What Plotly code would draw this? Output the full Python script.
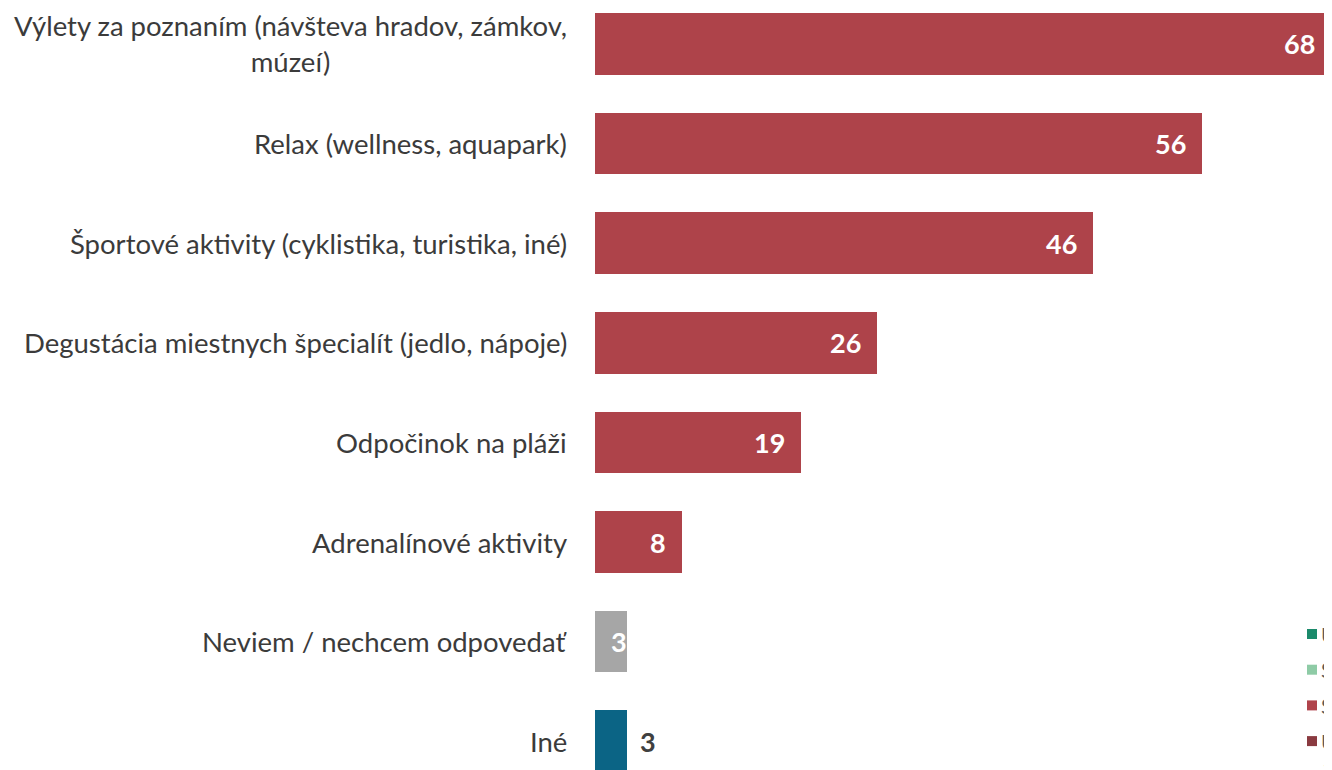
import plotly.graph_objects as go

categories = [
    "Výlety za poznaním (návšteva hradov, zámkov,<br>múzeí)",
    "Relax (wellness, aquapark)",
    "Športové aktivity (cyklistika, turistika, iné)",
    "Degustácia miestnych špecialít (jedlo, nápoje)",
    "Odpočinok na pláži",
    "Adrenalínové aktivity",
    "Neviem / nechcem odpovedať",
    "Iné",
]
values = [68, 56, 46, 26, 19, 8, 3, 3]
bar_colors = ["#AE434A"] * 6 + ["#A6A6A6", "#0B6485"]

legend_labels = ["Určite áno", "Skôr áno", "Skôr nie", "Určite nie", "Ťažko povedať"]
legend_colors = ["#1B8A6B", "#8ECBA6", "#B0434B", "#8A3A40", "#A6A6A6"]

FONT = "Lato"
ypos = list(range(len(categories)))

fig = go.Figure()
fig.add_trace(go.Bar(
    x=values, y=ypos, orientation="h",
    marker=dict(color=bar_colors, line=dict(width=0)),
    width=0.62, showlegend=False, hoverinfo="x",
))

annotations = []
for i, (cat, v) in enumerate(zip(categories, values)):
    annotations.append(dict(
        x=0, xref="paper", y=i, yref="y", text=cat, showarrow=False,
        xanchor="right", yanchor="middle", align="center", xshift=-26,
        font=dict(family=FONT, size=27.5, color="#3B3B3B"),
    ))
    if i == len(values) - 1:
        annotations.append(dict(
            x=v, xref="x", y=i, yref="y", text=f"<b>{v}</b>", showarrow=False,
            xanchor="left", yanchor="middle", xshift=11,
            font=dict(family=FONT, size=27, color="#404040"),
        ))
    elif v < 5:
        annotations.append(dict(
            x=v, xref="x", y=i, yref="y", text=f"<b>{v}</b>", showarrow=False,
            xanchor="right", yanchor="middle", xshift=2,
            font=dict(family=FONT, size=27, color="white"),
        ))
    else:
        annotations.append(dict(
            x=v, xref="x", y=i, yref="y", text=f"<b>{v}</b>", showarrow=False,
            xanchor="right", yanchor="middle", xshift=-14,
            font=dict(family=FONT, size=27, color="white"),
        ))

shapes = []
for k, (lab, col) in enumerate(zip(legend_labels, legend_colors)):
    yc = 136 - 35.7 * k
    shapes.append(dict(
        type="rect", xref="paper", yref="paper", xsizemode="pixel", ysizemode="pixel",
        xanchor=1, yanchor=0, x0=-25, x1=-15, y0=yc - 5, y1=yc + 5,
        fillcolor=col, line=dict(width=0),
    ))
    annotations.append(dict(
        x=1, xref="paper", y=0, yref="paper", text=lab, showarrow=False,
        xanchor="left", yanchor="middle", xshift=-11, yshift=yc,
        borderpad=0, borderwidth=0,
        font=dict(family=FONT, size=21, color="#595959"),
    ))

fig.update_layout(
    width=1324, height=762,
    margin=dict(l=587, r=0, t=0, b=0, autoexpand=False),
    paper_bgcolor="white", plot_bgcolor="white",
    xaxis=dict(range=[0, 68.05], visible=False, fixedrange=True),
    yaxis=dict(range=[7.289, -0.361], visible=False, fixedrange=True),
    annotations=annotations, shapes=shapes,
    bargap=0,
)

fig.write_html("out.html")
